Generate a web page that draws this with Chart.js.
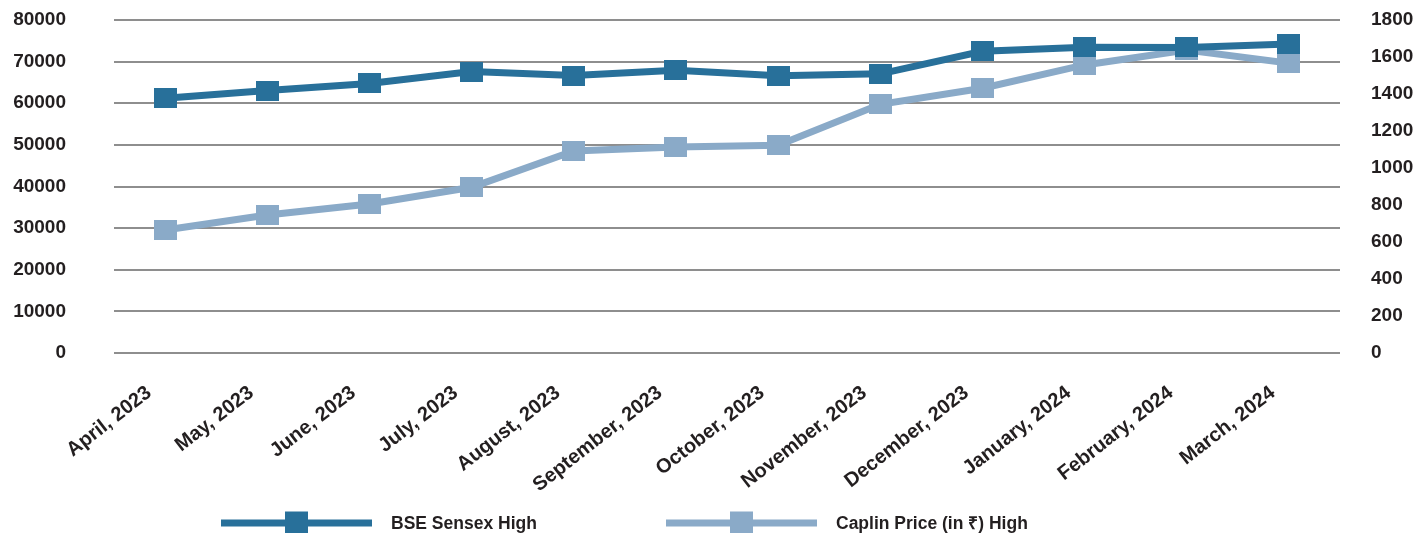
<!DOCTYPE html>
<html>
<head>
<meta charset="utf-8">
<script src="https://cdn.jsdelivr.net/npm/chart.js@4.4.1/dist/chart.umd.min.js"></script>
<style>
    html, body { margin: 0; padding: 0; background: #ffffff; }
    #wrap { width: 1419px; height: 533px; }
</style>
</head>
<body>
<div id="wrap"><canvas id="lineChart" width="1419" height="533"></canvas></div>
<script>

/* ==========================================================
   DATA
========================================================== */

const months = [
    "April, 2023", "May, 2023", "June, 2023", "July, 2023",
    "August, 2023", "September, 2023", "October, 2023", "November, 2023",
    "December, 2023", "January, 2024", "February, 2024", "March, 2024"
];

const sensexHigh = [61209, 63036, 64768, 67619, 66658, 67927, 66592, 67069, 72484, 73427, 73413, 74245];

const caplinHigh = [665, 746, 805, 896, 1092, 1114, 1123, 1344, 1431, 1557, 1638, 1567];

const leftTicks = [0, 10000, 20000, 30000, 40000, 50000, 60000, 70000, 80000];

const rightTicks = [0, 200, 400, 600, 800, 1000, 1200, 1400, 1600, 1800];

/* ==========================================================
   STYLE
========================================================== */

const darkBlue = "#28709a";
const lightBlue = "#8aaac8";
const textColor = "#231f20";
const gridColor = "#8e8e8e";
const tickFont = { family: "'Liberation Sans', Arial, sans-serif", size: 19, weight: "bold" };

// Marker jadi gambar kecil (sedikit lebih lebar dari tinggi)
function makeMarker(color, w, h) {
    const c = document.createElement("canvas");
    c.width = w;
    c.height = h;
    const g = c.getContext("2d");
    g.fillStyle = color;
    g.fillRect(0, 0, w, h);
    return c;
}

/* ==========================================================
   LEGEND PLUGIN
========================================================== */

const lineLegend = {

    id: "lineLegend",

    afterDraw(chart, args, opts) {

        const ctx = chart.ctx;

        ctx.save();
        ctx.font = opts.font;
        ctx.textBaseline = "middle";
        ctx.textAlign = "left";

        chart.data.datasets.forEach((ds, i) => {

            const x = opts.starts[i];
            const y = opts.y;

            ctx.strokeStyle = ds.borderColor;
            ctx.lineWidth = ds.borderWidth;
            ctx.beginPath();
            ctx.moveTo(x, y);
            ctx.lineTo(x + opts.lineLength, y);
            ctx.stroke();

            ctx.fillStyle = ds.borderColor;
            ctx.fillRect(x + opts.lineLength / 2 - opts.box / 2, y - opts.box / 2, opts.box, opts.box);

            ctx.fillStyle = opts.color;
            ctx.fillText(ds.label, x + opts.lineLength + opts.gap, y + 1);

        });

        ctx.restore();

    }

};

Chart.register(lineLegend);

/* ==========================================================
   CHART
========================================================== */

new Chart(document.getElementById("lineChart"), {

    type: "line",

    data: {

        labels: months,

        datasets: [
            {
                label: "BSE Sensex High",
                data: sensexHigh,
                yAxisID: "y",
                borderColor: darkBlue,
                backgroundColor: darkBlue,
                borderWidth: 7,
                tension: 0,
                pointStyle: makeMarker(darkBlue, 23, 20),
                pointRadius: 11
            },
            {
                label: "Caplin Price (in ₹) High",
                data: caplinHigh,
                yAxisID: "y1",
                borderColor: lightBlue,
                backgroundColor: lightBlue,
                borderWidth: 7,
                tension: 0,
                pointStyle: makeMarker(lightBlue, 23, 20),
                pointRadius: 11
            }
        ]

    },

    options: {

        responsive: false,
        animation: false,
        devicePixelRatio: 1,

        layout: {
            padding: { top: 20, bottom: 30, left: 0, right: 0 }
        },

        plugins: {

            legend: { display: false },
            tooltip: { enabled: false },

            lineLegend: {
                starts: [221, 666],
                y: 523,
                lineLength: 151,
                gap: 19,
                box: 23,
                color: textColor,
                font: "bold 17.5px 'Liberation Sans', Arial, sans-serif"
            }

        },

        scales: {

            x: {
                offset: true,
                grid: { display: false, offset: true },
                border: { display: false },
                ticks: {
                    color: textColor,
                    font: { family: "'Liberation Sans', Arial, sans-serif", size: 20, weight: "bold" },
                    minRotation: 38,
                    maxRotation: 38,
                    autoSkip: false,
                    padding: 20,
                    labelOffset: -16
                },
                afterFit(scale) {
                    scale.height = 150;
                    scale.paddingLeft = 0;
                    scale.paddingRight = 0;
                }
            },

            y: {
                position: "left",
                min: leftTicks[0],
                max: leftTicks[leftTicks.length - 1],
                afterBuildTicks(scale) {
                    scale.ticks = leftTicks.map(v => ({ value: v }));
                },
                grid: {
                    color: gridColor,
                    lineWidth: 2,
                    drawTicks: false
                },
                border: { display: false },
                ticks: {
                    color: textColor,
                    font: tickFont,
                    padding: 48,
                    callback: value => String(value)
                },
                afterFit(scale) {
                    // padding tick jangan ikut menggeser area atas/bawah
                    scale.width = 114;
                    scale.paddingTop = 10;
                    scale.paddingBottom = 10;
                }
            },

            y1: {
                position: "right",
                min: rightTicks[0],
                max: rightTicks[rightTicks.length - 1],
                afterBuildTicks(scale) {
                    scale.ticks = rightTicks.map(v => ({ value: v }));
                },
                grid: { display: false, drawTicks: false },
                border: { display: false },
                ticks: {
                    color: textColor,
                    font: tickFont,
                    padding: 31,
                    callback: value => String(value)
                },
                afterFit(scale) {
                    scale.width = 79;
                    scale.paddingTop = 10;
                    scale.paddingBottom = 10;
                }
            }

        }

    }

});

</script>
</body>
</html>
